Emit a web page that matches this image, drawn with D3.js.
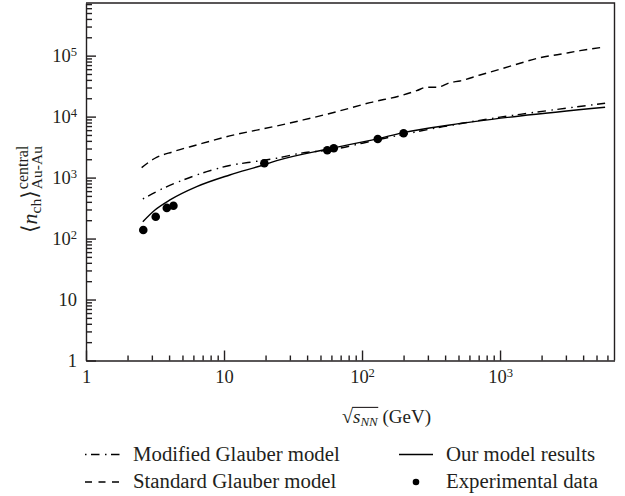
<!DOCTYPE html>
<html>
<head>
<meta charset="utf-8">
<script src="https://cdn.jsdelivr.net/npm/d3@7"></script>
<style>
  body { margin: 0; background: #fff; }
  text { font-family: "Liberation Serif", "DejaVu Serif", serif; fill: #231f20; }
</style>
</head>
<body>
<svg id="chart" width="625" height="496"></svg>
<script>
// Experimental central Au-Au charged multiplicities
const expEnergy = [2.6, 3.2, 3.85, 4.3, 19.6, 56, 62.4, 130, 200];
const expNch    = [138, 228, 318, 346, 1720, 2810, 3030, 4300, 5330];

// Our model results
const modelEnergy = [2.58, 3.16, 4.06, 6.34, 11, 19.3, 24.1, 55.5, 128, 199, 434, 1396, 5770];
const modelNch    = [189, 294, 430, 710, 1104, 1610, 1895, 2915, 4305, 5460, 7300, 10250, 14250];

// Modified Glauber model
const modGlauberEnergy = [2.58, 3.63, 5.07, 7.5, 11, 17.3, 24.1, 35.6, 58.6, 135, 235, 388, 1000, 1396, 5770];
const modGlauberNch    = [446, 668, 914, 1250, 1580, 1850, 2075, 2500, 2850, 4250, 5500, 6840, 9800, 10900, 16560];

// Standard Glauber model
const stdGlauberEnergy = [2.53, 3.16, 4.29, 6.34, 11, 24.1, 37.5, 65.6, 114, 199, 249, 294, 348, 434, 513, 716, 1000, 1396, 1950, 2720, 3800, 5610];
const stdGlauberNch    = [1455, 2075, 2661, 3430, 4820, 7030, 8820, 12050, 16950, 22650, 26650, 30300, 30300, 36100, 38450, 48200, 59800, 75000, 92700, 105400, 120800, 137400];

// Axis ticks and labels
const xMajorTicks = [1, 10, 100, 1000];
const xTickLabels = ["1", "10", "10^2", "10^3"];
const yMajorTicks = [1, 10, 100, 1000, 10000, 100000];
const yTickLabels = ["1", "10", "10^2", "10^3", "10^4", "10^5"];

const legendLabels = ["Modified Glauber model", "Standard Glauber model", "Our model results", "Experimental data"];

const ink = "#231f20";
const svg = d3.select("#chart");

const x = d3.scaleLog().domain([1, 6750]).range([86, 614.5]);
const y = d3.scaleLog().domain([1, 7.3e5]).range([360.5, 3]);

function minorTicks(domain) {
  const out = [];
  for (let p = 1; p <= domain[1]; p *= 10)
    for (let m = 2; m <= 9; m++) if (m * p <= domain[1]) out.push(m * p);
  return out;
}

function labelTicks(sel, labels) {
  sel.selectAll(".tick text").each(function (d, i) {
    const t = d3.select(this);
    const parts = labels[i].split("^");
    t.text(null);
    t.append("tspan").text(parts[0]);
    if (parts[1]) t.append("tspan").attr("dy", "-0.45em").attr("font-size", "0.68em").text(parts[1]);
  });
}

// frame (top and right)
svg.append("path")
  .attr("d", `M${x.range()[0]},${y.range()[1]}H${x.range()[1]}V${y.range()[0]}`)
  .attr("fill", "none").attr("stroke", ink).attr("stroke-width", 1.4);

// x axis
const gx = svg.append("g").attr("transform", `translate(0,${y.range()[0]})`);
gx.call(d3.axisBottom(x).tickValues(minorTicks(x.domain())).tickSize(-5).tickFormat(""));
gx.select(".domain").remove();
const gxM = svg.append("g").attr("transform", `translate(0,${y.range()[0]})`)
  .call(d3.axisBottom(x).tickValues(xMajorTicks).tickSizeInner(-10).tickSizeOuter(0).tickPadding(9));
labelTicks(gxM, xTickLabels);

// y axis
const gy = svg.append("g").attr("transform", `translate(${x.range()[0]},0)`);
gy.call(d3.axisLeft(y).tickValues(minorTicks(y.domain())).tickSize(-6).tickFormat(""));
gy.select(".domain").remove();
const gyM = svg.append("g").attr("transform", `translate(${x.range()[0]},0)`)
  .call(d3.axisLeft(y).tickValues(yMajorTicks).tickSizeInner(-10).tickSizeOuter(0).tickPadding(9));
labelTicks(gyM, yTickLabels);

svg.selectAll(".domain, .tick line").attr("stroke", ink).attr("stroke-width", 1.4);
svg.selectAll(".tick text").attr("font-family", "Liberation Serif").attr("font-size", 18.5).attr("fill", ink);

// curves
const line = d3.line().x(d => x(d[0])).y(d => y(d[1])).curve(d3.curveMonotoneX);
const series = [
  { e: stdGlauberEnergy, n: stdGlauberNch, dash: "8,5" },
  { e: modGlauberEnergy, n: modGlauberNch, dash: "1.5,4.5,8.5,5.5" },
  { e: modelEnergy, n: modelNch, dash: null }
];
series.forEach(s => {
  svg.append("path")
    .datum(d3.zip(s.e, s.n))
    .attr("d", line)
    .attr("fill", "none").attr("stroke", "#000").attr("stroke-width", 1.4)
    .attr("stroke-dasharray", s.dash);
});

// experimental points
svg.append("g").selectAll("circle")
  .data(d3.zip(expEnergy, expNch))
  .join("circle")
  .attr("cx", d => x(d[0])).attr("cy", d => y(d[1])).attr("r", 4.3).attr("fill", "#000");

// x axis title
const xt = svg.append("text").attr("x", 342).attr("y", 423).attr("font-size", 19);
xt.append("tspan").attr("font-size", 20).text("\u221A");
xt.append("tspan").attr("font-style", "italic").text("s");
xt.append("tspan").attr("font-style", "italic").attr("font-size", 13).attr("dy", 3).text("NN");
xt.append("tspan").attr("dy", -3).text(" (GeV)");
{
  const node = xt.node();
  const r = node.getExtentOfChar(0);
  const e3 = node.getExtentOfChar(3);
  svg.append("line")
    .attr("x1", r.x + r.width - 0.8).attr("x2", e3.x + e3.width + 0.5)
    .attr("y1", r.y + 2.4).attr("y2", r.y + 2.4)
    .attr("stroke", ink).attr("stroke-width", 1.1);
}

// y axis title
const yg = svg.append("g").attr("transform", "translate(37,233) rotate(-90)");
const ym = yg.append("text").attr("x", 0).attr("y", 0).attr("font-size", 22);
ym.append("tspan").text("\u27E8");
ym.append("tspan").attr("font-style", "italic").text("n");
ym.append("tspan").attr("font-size", 15.5).attr("dy", 4).text("ch");
ym.append("tspan").attr("dy", -4).text("\u27E9");
const yLen = ym.node().getComputedTextLength();
yg.append("text").attr("x", yLen + 1).attr("y", -9.5).attr("font-size", 16).text("central");
yg.append("text").attr("x", yLen + 1).attr("y", 5).attr("font-size", 15.5).text("Au-Au");

// legend
const leg = svg.append("g");
const legRows = [454.5, 482];
const legItems = [
  { col: 0, row: 0, kind: "line", dash: "1.5,4.5,8.5,5.5" },
  { col: 0, row: 1, kind: "line", dash: "7,6.5" },
  { col: 1, row: 0, kind: "line", dash: null },
  { col: 1, row: 1, kind: "dot" }
];
const colSym = [[85, 120], [399, 433]];
const colText = [133, 446];
legItems.forEach((it, i) => {
  const yy = legRows[it.row];
  const [a, b] = colSym[it.col];
  if (it.kind === "line") {
    leg.append("line").attr("x1", a).attr("x2", b).attr("y1", yy).attr("y2", yy)
      .attr("stroke", "#000").attr("stroke-width", 1.4).attr("stroke-dasharray", it.dash);
  } else {
    leg.append("circle").attr("cx", (a + b) / 2).attr("cy", yy).attr("r", 3.3).attr("fill", "#000");
  }
  leg.append("text").attr("x", colText[it.col]).attr("y", yy + 6.3)
    .attr("font-size", 20.8).text(legendLabels[i]);
});
</script>
</body>
</html>
